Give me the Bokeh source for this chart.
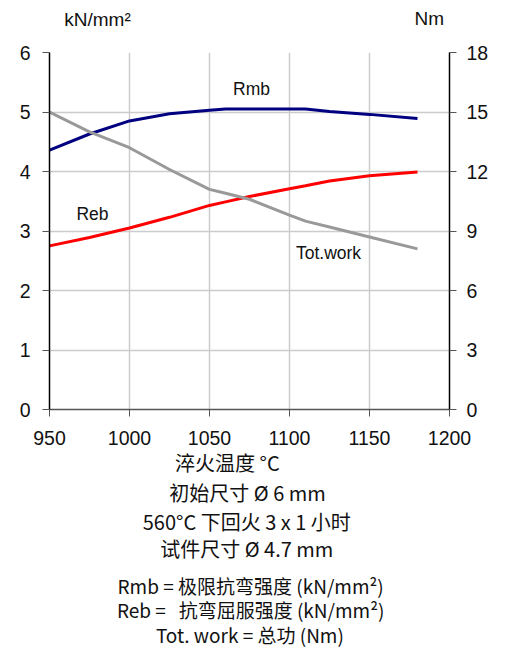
from bokeh.plotting import figure
from bokeh.layouts import column
from bokeh.models import Range1d, LinearAxis, Label, FixedTicker
from bokeh.core.properties import value
from bokeh.embed import file_html
from bokeh.resources import INLINE

# ---- data ----
temps = [950, 975, 1000, 1025, 1050, 1060, 1075, 1100, 1110, 1125, 1150, 1180]
rmb = [4.36, 4.63, 4.85, 4.97, 5.03, 5.05, 5.05, 5.05, 5.05, 5.01, 4.96, 4.89]
reb = [2.75, 2.89, 3.05, 3.23, 3.43, 3.49, 3.58, 3.71, 3.76, 3.84, 3.93, 3.99]
tot = [15.0, 14.0, 13.2, 12.1, 11.1, 10.9, 10.6, 9.8, 9.5, 9.2, 8.7, 8.1]

x_ticks = [950, 1000, 1050, 1100, 1150, 1200]
left_ticks = [0, 1, 2, 3, 4, 5, 6]
right_ticks = [0, 3, 6, 9, 12, 15, 18]

unit_left = "kN/mm²"
unit_right = "Nm"
notes = ["淬火温度 °C", "初始尺寸 Ø 6 mm", "560°C 下回火 3 x 1 小时", "试件尺寸 Ø 4.7 mm"]
legend_lines = ["Rmb = 极限抗弯强度 (kN/mm²)",
                "Reb =\u00a0\u00a0 抗弯屈服强度 (kN/mm²)",
                "Tot. work = 总功 (Nm)"]

W = 515
HEAD_H = 36
CHART_BOTTOM = 447
FOOT_H = 654 - CHART_BOTTOM
FL, FR, FT, FB = 49, 449, 52, 409

tick_font = "Liberation Sans"
tick_size = "19.5px"
cjk = "Noto Sans CJK SC"


def text_fig(h):
    f = figure(width=W, height=h, output_backend="svg", toolbar_location=None,
               x_range=Range1d(0, W), y_range=Range1d(h, 0),
               x_axis_type=None, y_axis_type=None,
               min_border_left=0, min_border_right=0, min_border_top=0, min_border_bottom=0)
    f.outline_line_color = None
    f.xgrid.visible = False
    f.ygrid.visible = False
    return f


# ---- header ----
head = text_fig(HEAD_H)
head.text(x=[19], y=[19], text=[unit_left], text_font=value(tick_font), text_font_size="19px",
          text_align="left", text_baseline="middle", text_color="#111111")
head.text(x=[470], y=[18], text=[unit_right], text_font=value(tick_font), text_font_size="19px",
          text_align="left", text_baseline="middle", text_color="#111111")

# ---- chart ----
CH = CHART_BOTTOM - HEAD_H
p = figure(width=W, height=CH, output_backend="svg", toolbar_location=None,
           x_range=Range1d(950, 1200), y_range=Range1d(0, 6),
           min_border_left=FL, min_border_right=W - FR,
           min_border_top=FT - HEAD_H, min_border_bottom=CHART_BOTTOM - FB)
p.extra_y_ranges = {"nm": Range1d(0, 18)}
p.outline_line_color = None

p.xaxis.ticker = FixedTicker(ticks=x_ticks)
p.yaxis.ticker = FixedTicker(ticks=left_ticks)
for ax in (p.xaxis[0], p.yaxis[0]):
    ax.major_label_text_font = tick_font
    ax.major_label_text_font_size = tick_size
    ax.major_label_text_color = "#111111"
    ax.major_tick_in = 0
    ax.major_tick_out = 7
    ax.minor_tick_line_color = None
    ax.axis_line_width = 1.5
p.xaxis.axis_line_color = "#555555"
p.xaxis.major_tick_line_color = "#555555"
p.xaxis.major_label_standoff = 14
p.yaxis.axis_line_color = "black"
p.yaxis.major_tick_line_color = "#555555"
p.yaxis.major_label_standoff = 12

ry = LinearAxis(y_range_name="nm", ticker=FixedTicker(ticks=right_ticks))
ry.major_label_text_font = tick_font
ry.major_label_text_font_size = tick_size
ry.major_label_text_color = "#111111"
ry.major_tick_in = 0
ry.major_tick_out = 7
ry.minor_tick_line_color = None
ry.axis_line_color = "black"
ry.axis_line_width = 1.5
ry.major_tick_line_color = "#555555"
ry.major_label_standoff = 10
p.add_layout(ry, "right")

p.xgrid.grid_line_color = "#cccccc"
p.ygrid.grid_line_color = "#cccccc"
p.xgrid.grid_line_width = 1.5
p.ygrid.grid_line_width = 1.5

p.line(temps, rmb, line_color="#000080", line_width=3)
p.line(temps, reb, line_color="#ff0000", line_width=3)
p.line(temps, tot, line_color="#999999", line_width=3, y_range_name="nm")


def lab(cx, cy, text):
    p.add_layout(Label(x=cx - FL, y=FB - cy, x_units="screen", y_units="screen",
                       text=text, text_font=tick_font, text_font_size="17.5px",
                       text_align="center", text_baseline="middle", text_color="#111111"))


lab(251, 88, "Rmb")
lab(92, 213, "Reb")
lab(328, 252, "Tot.work")

# ---- footer ----
foot = text_fig(FOOT_H)
note_x = [229, 255, 254, 254]
note_y = [462, 492, 521, 548]
foot.text(x=note_x, y=[v - CHART_BOTTOM for v in note_y], text=notes,
          text_font=value(cjk), text_font_size="20px",
          text_align="center", text_baseline="middle", text_color="#111111")
leg_x = [259, 259, 258]
leg_y = [585, 609, 634]
foot.text(x=leg_x, y=[v - CHART_BOTTOM for v in leg_y], text=legend_lines,
          text_font=value(cjk), text_font_size="19px",
          text_align="center", text_baseline="middle", text_color="#111111")

layout = column(head, p, foot, spacing=0)
open("out.html", "w").write(file_html(layout, INLINE))
